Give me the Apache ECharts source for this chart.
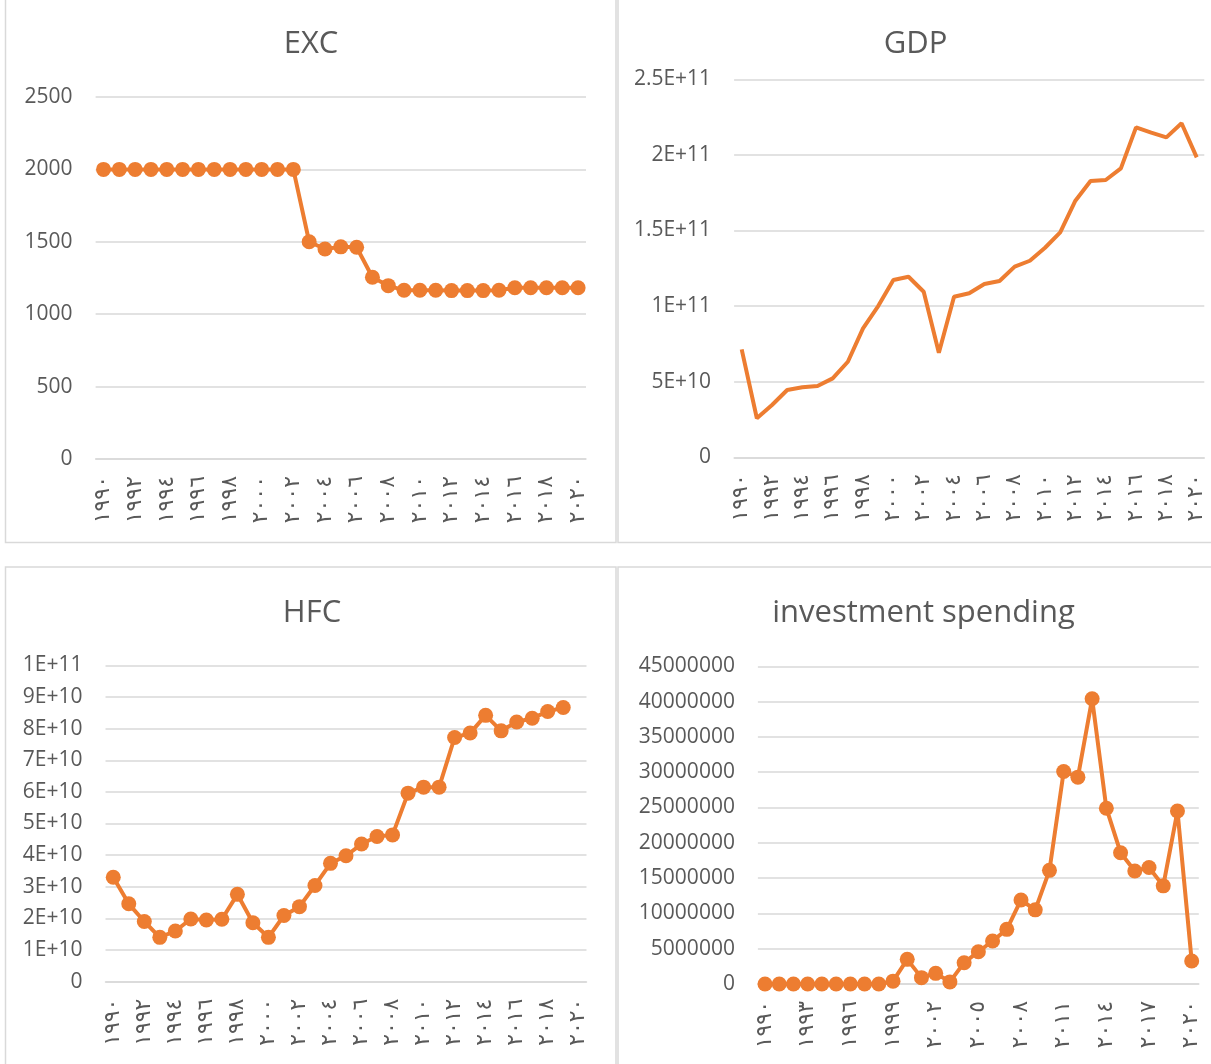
<!DOCTYPE html>
<html>
<head>
<meta charset="utf-8">
<script src="https://cdn.jsdelivr.net/npm/echarts@6/dist/echarts.min.js"></script>
<style>
html,body{margin:0;padding:0;background:#fff;}
#c{width:1211px;height:1064px;}
</style>
</head>
<body>
<div id="c"></div>
<script>
// ---- data ----
const years = ['١٩٩٠','١٩٩١','١٩٩٢','١٩٩٣','١٩٩٤','١٩٩٥','١٩٩٦','١٩٩٧','١٩٩٨','١٩٩٩',
  '٢٠٠٠','٢٠٠١','٢٠٠٢','٢٠٠٣','٢٠٠٤','٢٠٠٥','٢٠٠٦','٢٠٠٧','٢٠٠٨','٢٠٠٩',
  '٢٠١٠','٢٠١١','٢٠١٢','٢٠١٣','٢٠١٤','٢٠١٥','٢٠١٦','٢٠١٧','٢٠١٨','٢٠١٩','٢٠٢٠'];

const excValues = [2000,2000,2000,2000,2000,2000,2000,2000,2000,2000,2000,2000,2000,
  1500,1450,1465,1462,1255,1197,1165,1165,1165,1163,1163,1163,1165,1183,1183,1183,1183,1183];

const gdpValues = [7.14e10,2.58e10,3.46e10,4.45e10,4.63e10,4.72e10,5.22e10,6.32e10,8.53e10,1.0e11,
  1.173e11,1.194e11,1.095e11,6.92e10,1.062e11,1.085e11,1.146e11,1.166e11,1.261e11,1.30e11,
  1.386e11,1.488e11,1.697e11,1.827e11,1.834e11,1.911e11,2.182e11,2.147e11,2.116e11,2.209e11,1.984e11];

const hfcValues = [3.30e10,2.46e10,1.90e10,1.40e10,1.60e10,1.98e10,1.95e10,1.97e10,2.76e10,1.86e10,
  1.40e10,2.09e10,2.37e10,3.04e10,3.74e10,3.98e10,4.35e10,4.59e10,4.64e10,5.96e10,
  6.15e10,6.15e10,7.72e10,7.86e10,8.42e10,7.93e10,8.21e10,8.33e10,8.54e10,8.67e10,null];

const invValues = [0,0,0,0,0,0,0,0,0,400000,
  3490000,900000,1510000,300000,3020000,4570000,6090000,7740000,11900000,10500000,
  16100000,30100000,29300000,40400000,24900000,18600000,16000000,16500000,13900000,24500000,3250000];

const excTicks = ['0','500','1000','1500','2000','2500'];
const gdpTicks = ['0','5E+10','1E+11','1.5E+11','2E+11','2.5E+11'];
const hfcTicks = ['0','1E+10','2E+10','3E+10','4E+10','5E+10','6E+10','7E+10','8E+10','9E+10','1E+11'];
const invTicks = ['0','5000000','10000000','15000000','20000000','25000000','30000000','35000000','40000000','45000000'];

const titles = ['EXC','GDP','HFC','investment spending'];

// ---- styling ----
const ORANGE = '#ED7D31';
const GRIDC = '#d9d9d9';
const TXT = '#595959';
const FONT = '"Open Sans", sans-serif';

const grids = [
  {left:95.6, top:97, width:490.4, height:362},
  {left:734.1, top:79.3, width:470.2, height:378},
  {left:105.5, top:665.4, width:481, height:316.2},
  {left:757.9, top:666.3, width:440.9, height:317.7}
];
const titlePos = [[311,29],[915.5,29],[312,598],[923.5,598]];
const yDefs = [
  {max:2500, interval:500, ticks:excTicks},
  {max:2.5e11, interval:5e10, ticks:gdpTicks},
  {max:1e11, interval:1e10, ticks:hfcTicks},
  {max:4.5e7, interval:5e6, ticks:invTicks}
];
const xIntervals = [1,1,1,2];
const seriesData = [excValues, gdpValues, hfcValues, invValues];
const showSymbol = [true,false,true,true];

const option = {
  animation:false,
  backgroundColor:'#fff',
  title: titles.map((t,i)=>({
    text:t, left:titlePos[i][0], top:titlePos[i][1], textAlign:'center', padding:0,
    textStyle:{fontFamily:FONT, fontSize:31, fontWeight:'normal', color:TXT}
  })),
  grid: grids,
  xAxis: grids.map((g,i)=>({
    type:'category', gridIndex:i, data:years, boundaryGap:true,
    axisLine:{show:true, lineStyle:{color:GRIDC, width:1.5}},
    axisTick:{show:false},
    axisLabel:{interval:xIntervals[i], rotate:90, margin:17, color:TXT,
      fontFamily:'"DejaVu Sans", sans-serif', fontSize:22}
  })),
  yAxis: yDefs.map((d,i)=>({
    type:'value', gridIndex:i, min:0, max:d.max, interval:d.interval,
    axisLine:{show:false}, axisTick:{show:false},
    splitLine:{show:true, lineStyle:{color:GRIDC, width:1.5}},
    axisLabel:{margin:23, color:TXT, fontFamily:FONT, fontSize:21,
      formatter:(v)=>d.ticks[Math.round(v/d.interval)]}
  })),
  series: seriesData.map((arr,i)=>({
    type:'line', xAxisIndex:i, yAxisIndex:i, data:arr,
    showSymbol:showSymbol[i], showAllSymbol:true, symbol:'circle', symbolSize:15,
    lineStyle:{color:ORANGE, width:4}, itemStyle:{color:ORANGE},
    connectNulls:false
  })),
  graphic:[
    {type:'rect', shape:{x:5.5, y:-10, width:610.5, height:552.5}, style:{fill:'none', stroke:GRIDC, lineWidth:1.5}},
    {type:'rect', shape:{x:618, y:-10, width:620, height:552.5}, style:{fill:'none', stroke:GRIDC, lineWidth:1.5}},
    {type:'rect', shape:{x:5.5, y:567, width:610.5, height:520}, style:{fill:'none', stroke:GRIDC, lineWidth:1.5}},
    {type:'rect', shape:{x:618, y:567, width:620, height:520}, style:{fill:'none', stroke:GRIDC, lineWidth:1.5}}
  ]
};

const chart = echarts.init(document.getElementById('c'), null, {renderer:'canvas'});
chart.setOption(option);
</script>
</body>
</html>
